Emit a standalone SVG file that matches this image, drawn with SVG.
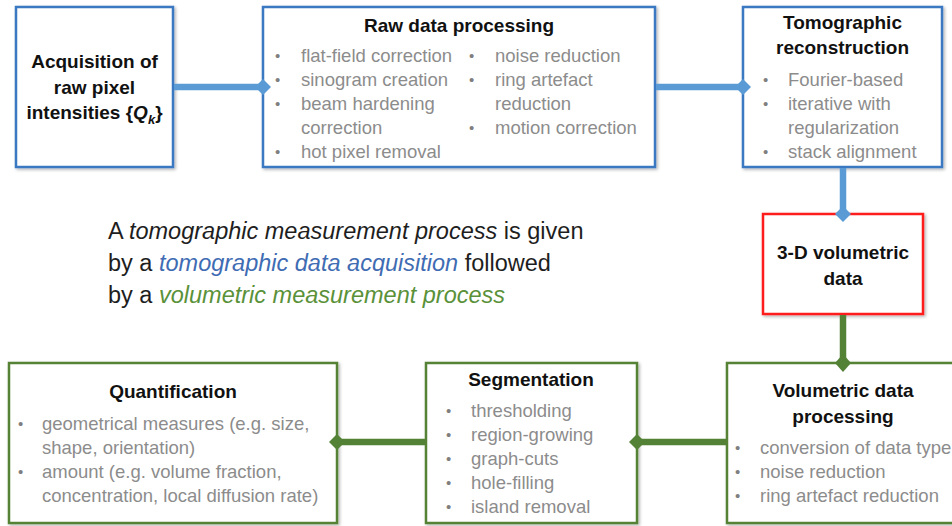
<svg xmlns="http://www.w3.org/2000/svg" width="952" height="526" viewBox="0 0 952 526">
  <defs>
    <filter id="shadow" x="-5%" y="-5%" width="115%" height="115%">
      <feDropShadow dx="1.5" dy="1.5" stdDeviation="1.5" flood-color="#000" flood-opacity="0.3"/>
    </filter>
    <style>
      .box { fill: #fff; stroke-width: 2.5; filter: url(#shadow); }
      .blue { stroke: #3b78c2; }
      .red { stroke: #ff1a1a; }
      .green { stroke: #548235; }
      .title { font-family: "Liberation Sans", Arial, sans-serif; font-weight: bold; font-size: 19px; fill: #111; text-anchor: middle; }
      .item { font-family: "Liberation Sans", Arial, sans-serif; font-size: 18.5px; fill: #8c8c8c; }
      .dot { font-family: "Liberation Sans", Arial, sans-serif; font-size: 15px; fill: #7f7f7f; }
      .lead { font-family: "Liberation Sans", Arial, sans-serif; font-size: 23.5px; fill: #1e1e1e; }
      .it { font-style: italic; }
      .c-blue { stroke: #5b9bd5; stroke-width: 6.5; fill: none; }
      .c-green { stroke: #538135; stroke-width: 6.5; fill: none; }
      .d-blue { fill: #5b9bd5; }
      .d-green { fill: #538135; }
    </style>
  </defs>

  <rect width="952" height="526" fill="#fff"/>

  <!-- acquisition -->
  <g id="acquisition">
    <rect class="box blue" x="16" y="7" width="157" height="160"/>
    <text class="title" x="94.5" y="68">Acquisition of</text>
    <text class="title" x="94.5" y="94">raw pixel</text>
    <text class="title" x="94.5" y="119">intensities {<tspan class="it">Q</tspan><tspan class="it" font-size="13" dy="5">k</tspan><tspan dy="-5">}</tspan></text>
  </g>

  <!-- raw data processing -->
  <g id="raw-processing">
    <rect class="box blue" x="263" y="7" width="392" height="160"/>
    <text class="title" x="459" y="32">Raw data processing</text>
    <text class="dot" x="275" y="61">•</text>
    <text class="dot" x="275" y="85">•</text>
    <text class="dot" x="275" y="109">•</text>
    <text class="dot" x="275" y="157">•</text>
    <text class="item" x="301" y="62">flat-field correction</text>
    <text class="item" x="301" y="86">sinogram creation</text>
    <text class="item" x="301" y="110">beam hardening</text>
    <text class="item" x="301" y="134">correction</text>
    <text class="item" x="301" y="158">hot pixel removal</text>
    <text class="dot" x="469" y="61">•</text>
    <text class="dot" x="469" y="85">•</text>
    <text class="dot" x="469" y="133">•</text>
    <text class="item" x="495" y="62">noise reduction</text>
    <text class="item" x="495" y="86">ring artefact</text>
    <text class="item" x="495" y="110">reduction</text>
    <text class="item" x="495" y="134">motion correction</text>
  </g>

  <!-- tomographic reconstruction -->
  <g id="reconstruction">
    <rect class="box blue" x="743" y="7" width="199" height="160"/>
    <text class="title" x="842.5" y="29">Tomographic</text>
    <text class="title" x="842.5" y="54">reconstruction</text>
    <text class="dot" x="763" y="85">•</text>
    <text class="dot" x="763" y="109">•</text>
    <text class="dot" x="763" y="157">•</text>
    <text class="item" x="788" y="86">Fourier-based</text>
    <text class="item" x="788" y="110">iterative with</text>
    <text class="item" x="788" y="134">regularization</text>
    <text class="item" x="788" y="158">stack alignment</text>
  </g>

  <!-- volumetric data -->
  <g id="volume">
    <rect class="box red" x="763" y="214" width="160" height="100"/>
    <text class="title" x="843" y="259">3-D volumetric</text>
    <text class="title" x="843" y="285">data</text>
  </g>

  <!-- definition text -->
  <g id="definition">
    <text class="lead" x="108" y="239">A <tspan class="it">tomographic measurement process</tspan> is given</text>
    <text class="lead" x="108" y="271">by a <tspan class="it" fill="#3f6cb3">tomographic data acquisition</tspan> followed</text>
    <text class="lead" x="108" y="303">by a <tspan class="it" fill="#5a9139">volumetric measurement process</tspan></text>
  </g>

  <!-- volumetric data processing -->
  <g id="volume-processing">
    <rect class="box green" x="727" y="363" width="232" height="160"/>
    <text class="title" x="843" y="397">Volumetric data</text>
    <text class="title" x="843" y="423">processing</text>
    <text class="dot" x="735" y="453">•</text>
    <text class="dot" x="735" y="477">•</text>
    <text class="dot" x="735" y="501">•</text>
    <text class="item" x="760" y="454">conversion of data type</text>
    <text class="item" x="760" y="478">noise reduction</text>
    <text class="item" x="760" y="502">ring artefact reduction</text>
  </g>

  <!-- segmentation -->
  <g id="segmentation">
    <rect class="box green" x="426" y="363" width="211" height="160"/>
    <text class="title" x="531" y="386">Segmentation</text>
    <text class="dot" x="446" y="416">•</text>
    <text class="dot" x="446" y="440">•</text>
    <text class="dot" x="446" y="464">•</text>
    <text class="dot" x="446" y="488">•</text>
    <text class="dot" x="446" y="512">•</text>
    <text class="item" x="471" y="417">thresholding</text>
    <text class="item" x="471" y="441">region-growing</text>
    <text class="item" x="471" y="465">graph-cuts</text>
    <text class="item" x="471" y="489">hole-filling</text>
    <text class="item" x="471" y="513">island removal</text>
  </g>

  <!-- quantification -->
  <g id="quantification">
    <rect class="box green" x="9" y="363" width="328" height="160"/>
    <text class="title" x="173" y="398">Quantification</text>
    <text class="dot" x="18" y="429">•</text>
    <text class="dot" x="18" y="477">•</text>
    <text class="item" x="42" y="430">geometrical measures (e.g. size,</text>
    <text class="item" x="42" y="454">shape, orientation)</text>
    <text class="item" x="42" y="478">amount (e.g. volume fraction,</text>
    <text class="item" x="42" y="502">concentration, local diffusion rate)</text>
  </g>

  <!-- connectors, drawn last so the diamond heads sit over the box borders -->
  <g id="connectors">
    <line class="c-blue" x1="174" y1="87" x2="263" y2="87"/>
    <polygon class="d-blue" points="255,87 263,79 271,87 263,95"/>
    <line class="c-blue" x1="656" y1="87" x2="743" y2="87"/>
    <polygon class="d-blue" points="735,87 743,79 751,87 743,95"/>
    <line class="c-blue" x1="843" y1="168" x2="843" y2="214"/>
    <polygon class="d-blue" points="835,214 843,206 851,214 843,222"/>
    <line class="c-green" x1="843" y1="315" x2="843" y2="363"/>
    <polygon class="d-green" points="835,363 843,354 851,363 843,372"/>
    <line class="c-green" x1="726" y1="442" x2="637" y2="442"/>
    <polygon class="d-green" points="629,442 637,434 645,442 637,450"/>
    <line class="c-green" x1="425" y1="442" x2="337" y2="442"/>
    <polygon class="d-green" points="329,442 337,434 345,442 337,450"/>
  </g>
</svg>
